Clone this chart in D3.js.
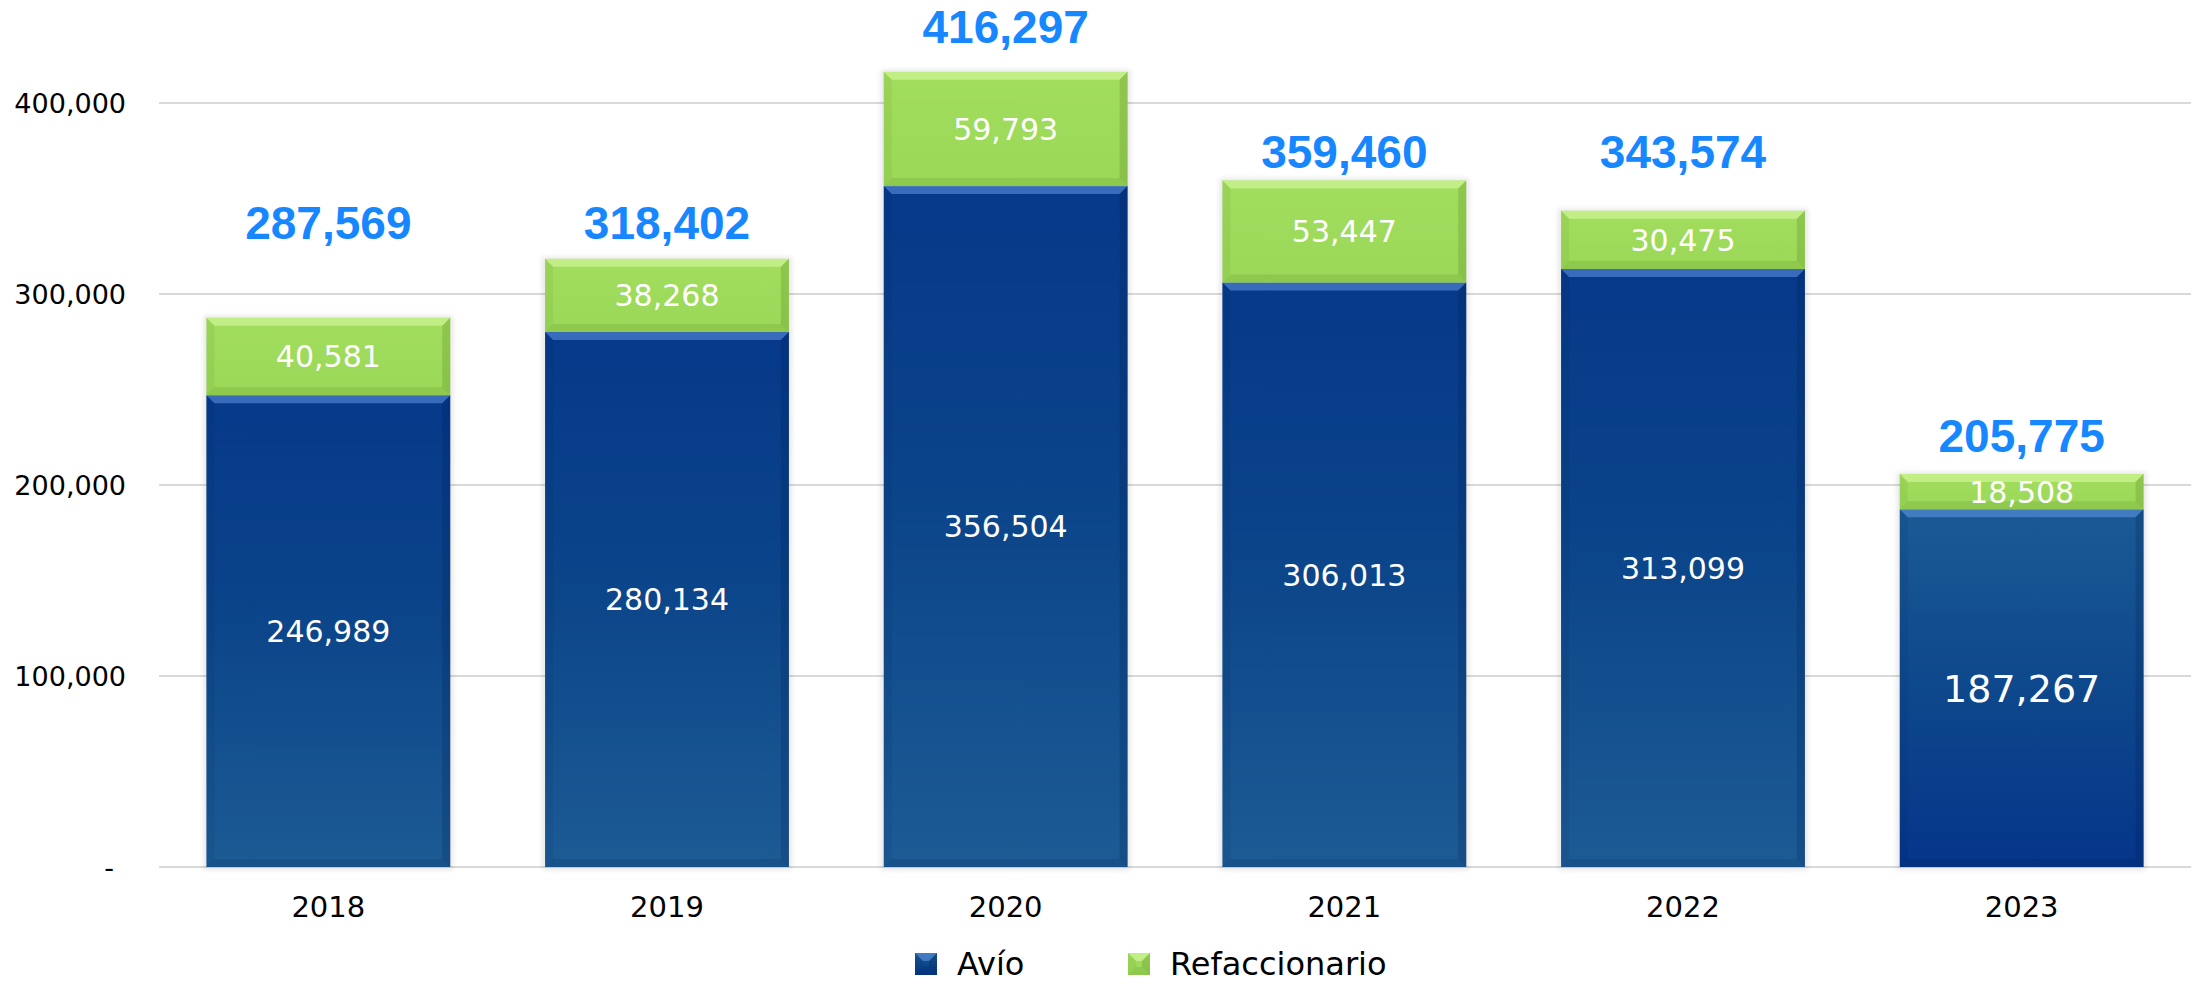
<!DOCTYPE html>
<html>
<head>
<meta charset="utf-8">
<script src="https://cdn.jsdelivr.net/npm/d3@7"></script>
<style>
  html, body { margin: 0; padding: 0; background: #fff; }
  svg { display: block; }
</style>
</head>
<body>
<svg id="chart"></svg>
<script>
// data
const years = ['2018', '2019', '2020', '2021', '2022', '2023'];
const avio = [246989, 280134, 356504, 306013, 313099, 187267];
const refaccionario = [40581, 38268, 59793, 53447, 30475, 18508];
const totals = [287569, 318402, 416297, 359460, 343574, 205775];
const yTicks = [0, 100000, 200000, 300000, 400000];
const seriesNames = ['Avío', 'Refaccionario'];

// where the blue total sits (in axis units), placed by hand in the original
const totalLabelAt = [329000, 329000, 431500, 366000, 366000, 217500];

const W = 2193, H = 985;
const svg = d3.select('#chart').attr('width', W).attr('height', H);

const x = d3.scaleBand().domain(years).range([159, 2191])
  .paddingInner(0.28).paddingOuter(0.14);
const y = d3.scaleLinear().domain([0, 400000]).range([867, 103]);

const fmt = d3.format(',');
const FONT = 'DejaVu Sans, Verdana, sans-serif';

const defs = svg.append('defs');

const grad = (id, stops) => {
  const g = defs.append('linearGradient').attr('id', id)
    .attr('x1', 0).attr('y1', 0).attr('x2', 0).attr('y2', 1);
  stops.forEach(([o, c]) => g.append('stop').attr('offset', o).attr('stop-color', c));
};
grad('blueDown', [[0, '#06398a'], [0.45, '#0b4489'], [1, '#1c5b94']]);
grad('blueUp', [[0, '#1a5a95'], [0.55, '#0d468b'], [1, '#05358a']]);
grad('green', [[0, '#a2dd5e'], [1, '#9bd858']]);

defs.append('filter').attr('id', 'shadow')
  .attr('x', -0.1).attr('y', -0.1).attr('width', 1.2).attr('height', 1.2)
  .append('feGaussianBlur').attr('stdDeviation', 2.5);

// gridlines
svg.append('g').selectAll('line').data(yTicks).join('line')
  .attr('x1', 159).attr('x2', 2191)
  .attr('y1', d => y(d)).attr('y2', d => y(d))
  .attr('stroke', '#d9d9d9').attr('stroke-width', 2);

// y labels
svg.append('g').selectAll('text').data(yTicks).join('text')
  .attr('x', d => d === 0 ? 114 : 126)
  .attr('y', d => y(d) + 10)
  .attr('text-anchor', 'end')
  .attr('font-family', FONT).attr('font-size', 27).attr('fill', '#000')
  .text(d => d === 0 ? '-' : fmt(d));

// x labels
svg.append('g').selectAll('text').data(years).join('text')
  .attr('x', d => x(d) + x.bandwidth() / 2)
  .attr('y', 917)
  .attr('text-anchor', 'middle')
  .attr('font-family', FONT).attr('font-size', 29).attr('fill', '#000')
  .text(d => d);

const rows = years.map((yr, i) => ({ year: yr, avio: avio[i], refa: refaccionario[i] }));
const stacked = d3.stack().keys(['avio', 'refa'])(rows);

// soft shadow behind each bar
svg.append('g').selectAll('rect').data(rows).join('rect')
  .attr('x', d => x(d.year) - 3)
  .attr('y', d => y(d.avio + d.refa) - 2)
  .attr('width', x.bandwidth() + 6)
  .attr('height', d => y(0) - y(d.avio + d.refa) + 5)
  .attr('fill', '#000').attr('opacity', 0.09)
  .attr('filter', 'url(#shadow)');

const bevel = 8;
const drawSegment = (g, x0, y0, w, h, fill, light, dark) => {
  g.append('rect').attr('x', x0).attr('y', y0).attr('width', w).attr('height', h).attr('fill', fill);
  const b = Math.min(bevel, h / 2);
  const pts = (arr) => arr.map(p => p.join(',')).join(' ');
  // top
  g.append('polygon').attr('points', pts([[x0, y0], [x0 + w, y0], [x0 + w - b, y0 + b], [x0 + b, y0 + b]]))
    .attr('fill', light).attr('opacity', 0.5);
  // left
  g.append('polygon').attr('points', pts([[x0, y0], [x0 + b, y0 + b], [x0 + b, y0 + h - b], [x0, y0 + h]]))
    .attr('fill', dark).attr('opacity', 0.08);
  // right
  g.append('polygon').attr('points', pts([[x0 + w, y0], [x0 + w, y0 + h], [x0 + w - b, y0 + h - b], [x0 + w - b, y0 + b]]))
    .attr('fill', dark).attr('opacity', 0.2);
  // bottom
  g.append('polygon').attr('points', pts([[x0, y0 + h], [x0 + b, y0 + h - b], [x0 + w - b, y0 + h - b], [x0 + w, y0 + h]]))
    .attr('fill', dark).attr('opacity', 0.14);
};

const barsG = svg.append('g');
stacked.forEach((layer) => {
  layer.forEach((seg, i) => {
    const x0 = x(years[i]);
    const top = y(seg[1]);
    const h = y(seg[0]) - top;
    const g = barsG.append('g');
    if (layer.key === 'avio') {
      const fill = i === years.length - 1 ? 'url(#blueUp)' : 'url(#blueDown)';
      drawSegment(g, x0, top, x.bandwidth(), h, fill, '#6aa0ec', '#001a4a');
    } else {
      drawSegment(g, x0, top, x.bandwidth(), h, 'url(#green)', '#e4ffb0', '#3f6a10');
    }
  });
});

// values inside the segments
const labelSize = (key, i) => (key === 'avio' && i === years.length - 1) ? 38 : 30;
stacked.forEach((layer) => {
  barsG.append('g').selectAll('text').data(layer).join('text')
    .attr('x', (d, i) => x(years[i]) + x.bandwidth() / 2)
    .attr('y', (d, i) => (y(d[0]) + y(d[1])) / 2 + labelSize(layer.key, i) * 0.365)
    .attr('text-anchor', 'middle')
    .attr('font-family', FONT)
    .attr('font-size', (d, i) => labelSize(layer.key, i))
    .attr('fill', '#fff')
    .text(d => fmt(d[1] - d[0]));
});

// totals
svg.append('g').selectAll('text').data(totals).join('text')
  .attr('x', (d, i) => x(years[i]) + x.bandwidth() / 2)
  .attr('y', (d, i) => y(totalLabelAt[i]))
  .attr('text-anchor', 'middle')
  .attr('font-family', 'Liberation Sans, Arial, sans-serif')
  .attr('font-weight', 'bold').attr('font-size', 46)
  .attr('fill', '#1787ff')
  .text(d => fmt(d));

// legend
const legend = svg.append('g');
const legendX = [915, 1128];
const legendFill = ['url(#blueUp)', 'url(#green)'];
seriesNames.forEach((name, i) => {
  const g = legend.append('g');
  drawSegment(g, legendX[i], 953, 22, 22, legendFill[i],
    i === 0 ? '#6aa0ec' : '#e4ffb0', i === 0 ? '#001a4a' : '#3f6a10');
  g.append('text')
    .attr('x', legendX[i] + 42).attr('y', 975)
    .attr('font-family', FONT).attr('font-size', 32).attr('fill', '#000')
    .text(name);
});
</script>
</body>
</html>
